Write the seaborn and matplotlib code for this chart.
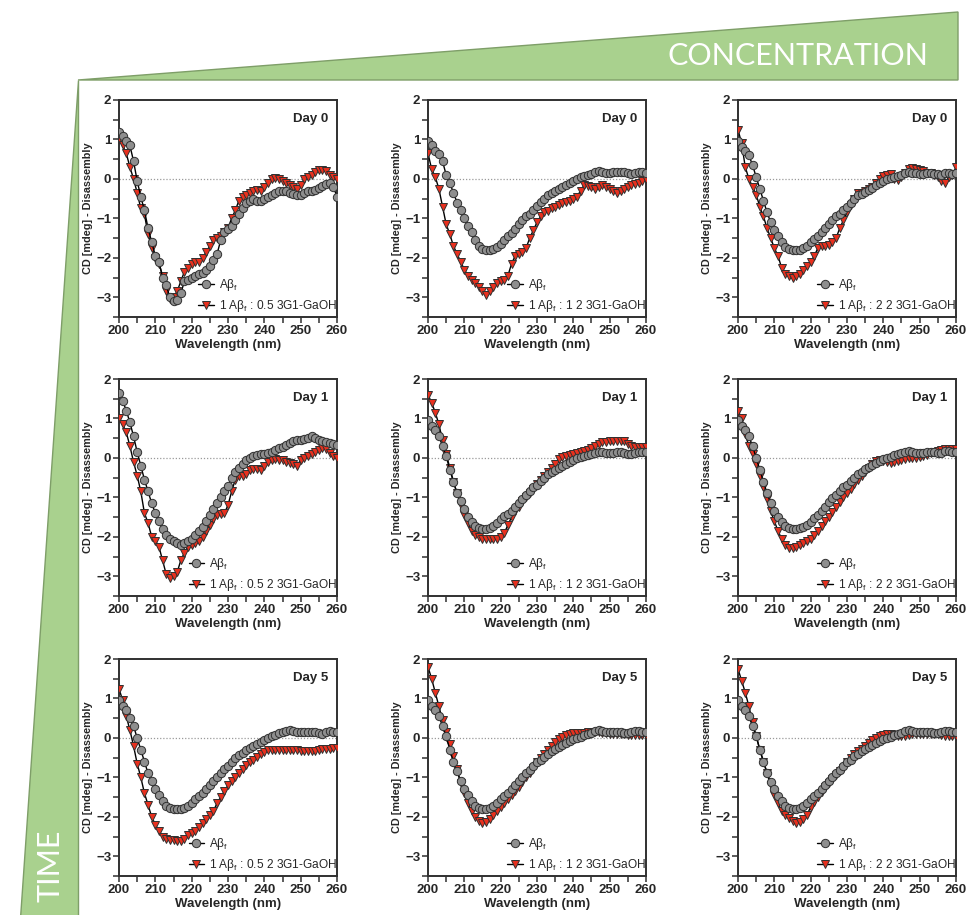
import numpy as np
import pandas as pd
import matplotlib
matplotlib.use("Agg")
import matplotlib.pyplot as plt
from matplotlib.patches import Polygon
from matplotlib.ticker import MultipleLocator
from matplotlib.lines import Line2D
import seaborn as sns

sns.set_style("ticks")
plt.rcParams["font.family"] = ["Liberation Sans", "DejaVu Sans"]

# Wavelength grid (nm), 1 nm steps
wavelength = list(range(200, 261))

# ---- Day 0 ----
ab_d0_a = [1.2, 1.1, 0.95, 0.85, 0.45, -0.05, -0.45, -0.8, -1.25, -1.6, -1.95, -2.1, -2.5, -2.7, -3.0, -3.1,
           -3.08, -2.9, -2.6, -2.55, -2.5, -2.47, -2.42, -2.38, -2.3, -2.2, -2.05, -1.9, -1.55, -1.35, -1.28,
           -1.2, -1.05, -0.9, -0.75, -0.6, -0.55, -0.52, -0.55, -0.55, -0.5, -0.45, -0.4, -0.35, -0.3, -0.3,
           -0.3, -0.35, -0.38, -0.42, -0.4, -0.35, -0.3, -0.3, -0.28, -0.22, -0.18, -0.12, -0.1, -0.2, -0.45]
mix_d0_a = [1.0, 0.85, 0.65, 0.3, 0.0, -0.35, -0.75, -0.9, -1.4, -1.75, -2.0, -2.15, -2.45, -2.85, -3.05, -3.0,
            -2.85, -2.6, -2.35, -2.25, -2.15, -2.1, -2.1, -2.0, -1.85, -1.7, -1.55, -1.5, -1.45, -1.35, -1.25,
            -1.0, -0.8, -0.55, -0.45, -0.4, -0.35, -0.3, -0.28, -0.3, -0.2, -0.1, 0.0, 0.02, 0.0, -0.05, -0.1,
            -0.15, -0.2, -0.25, -0.15, 0.0, 0.05, 0.1, 0.18, 0.22, 0.22, 0.2, 0.1, 0.05, 0.0]
ab_d0_b = [0.95, 0.85, 0.72, 0.62, 0.45, 0.1, -0.1, -0.35, -0.6, -0.8, -1.0, -1.2, -1.35, -1.55, -1.7, -1.78,
           -1.8, -1.8, -1.78, -1.72, -1.65, -1.55, -1.45, -1.38, -1.28, -1.15, -1.05, -0.95, -0.88, -0.78, -0.68,
           -0.58, -0.5, -0.42, -0.35, -0.3, -0.25, -0.2, -0.15, -0.1, -0.05, 0.0, 0.05, 0.08, 0.1, 0.13, 0.18,
           0.2, 0.18, 0.15, 0.15, 0.18, 0.18, 0.18, 0.17, 0.15, 0.12, 0.15, 0.18, 0.17, 0.15]
mix_d0_b = [0.65, 0.25, 0.05, -0.25, -0.7, -1.15, -1.4, -1.7, -1.9, -2.1, -2.3, -2.45, -2.55, -2.65, -2.75,
            -2.85, -2.95, -2.85, -2.75, -2.65, -2.6, -2.55, -2.45, -2.15, -1.95, -1.9, -1.85, -1.75, -1.5, -1.3,
            -1.1, -0.95, -0.85, -0.82, -0.75, -0.72, -0.65, -0.62, -0.58, -0.55, -0.5, -0.45, -0.3, -0.15,
            -0.18, -0.2, -0.25, -0.2, -0.15, -0.2, -0.25, -0.3, -0.35, -0.3, -0.25, -0.2, -0.15, -0.12, -0.1,
            -0.05, 0.0]
ab_d0_c = [0.95, 0.82, 0.7, 0.6, 0.35, 0.05, -0.25, -0.55, -0.85, -1.1, -1.3, -1.45, -1.6, -1.72, -1.78, -1.8,
           -1.8, -1.8, -1.75, -1.7, -1.6, -1.52, -1.45, -1.35, -1.25, -1.15, -1.05, -0.95, -0.88, -0.8, -0.7,
           -0.6, -0.5, -0.42, -0.38, -0.32, -0.27, -0.22, -0.15, -0.1, -0.05, 0.0, 0.03, 0.05, 0.08, 0.1, 0.15,
           0.18, 0.15, 0.15, 0.12, 0.13, 0.15, 0.15, 0.13, 0.12, 0.1, 0.15, 0.15, 0.13, 0.15]
mix_d0_c = [1.25, 0.9, 0.3, 0.0, -0.2, -0.4, -0.7, -0.95, -1.25, -1.5, -1.75, -1.95, -2.25, -2.4, -2.45, -2.5,
            -2.45, -2.4, -2.3, -2.2, -2.1, -1.95, -1.75, -1.7, -1.7, -1.68, -1.6, -1.5, -1.25, -1.05, -0.85,
            -0.65, -0.5, -0.35, -0.35, -0.3, -0.25, -0.2, -0.1, 0.0, 0.08, 0.1, 0.12, 0.0, -0.02, 0.05, 0.15,
            0.25, 0.28, 0.25, 0.22, 0.2, 0.15, 0.15, 0.1, 0.05, -0.05, -0.1, 0.05, 0.1, 0.3]

# ---- Day 1 ----
ab_d1_a = [1.65, 1.45, 1.2, 0.9, 0.55, 0.15, -0.2, -0.55, -0.85, -1.15, -1.4, -1.6, -1.8, -1.95, -2.05, -2.1,
           -2.15, -2.2, -2.15, -2.1, -2.05, -1.95, -1.85, -1.75, -1.6, -1.45, -1.3, -1.15, -1.0, -0.85, -0.7,
           -0.5, -0.35, -0.25, -0.15, -0.05, 0.0, 0.05, 0.08, 0.1, 0.1, 0.12, 0.15, 0.2, 0.25, 0.28, 0.32, 0.38,
           0.42, 0.45, 0.45, 0.48, 0.5, 0.55, 0.5, 0.45, 0.42, 0.4, 0.38, 0.35, 0.32]
mix_d1_a = [1.0, 0.85, 0.65, 0.3, -0.1, -0.45, -0.85, -1.4, -1.65, -2.0, -2.1, -2.25, -2.6, -2.95, -3.05, -3.0,
            -2.9, -2.6, -2.4, -2.25, -2.2, -2.15, -2.1, -2.0, -1.85, -1.7, -1.55, -1.45, -1.42, -1.4, -1.2,
            -0.85, -0.55, -0.45, -0.45, -0.4, -0.3, -0.28, -0.28, -0.3, -0.2, -0.1, -0.05, -0.02, -0.05, -0.05,
            -0.1, -0.12, -0.15, -0.2, -0.05, 0.0, 0.05, 0.1, 0.15, 0.2, 0.25, 0.22, 0.12, 0.05, 0.0]
ab_d1_b = [0.95, 0.82, 0.7, 0.55, 0.3, 0.05, -0.3, -0.6, -0.9, -1.1, -1.3, -1.5, -1.62, -1.72, -1.78, -1.8,
           -1.8, -1.78, -1.72, -1.65, -1.55, -1.48, -1.42, -1.35, -1.25, -1.15, -1.05, -0.95, -0.85, -0.75,
           -0.68, -0.58, -0.5, -0.42, -0.35, -0.3, -0.25, -0.2, -0.15, -0.1, -0.05, 0.0, 0.03, 0.05, 0.08, 0.1,
           0.13, 0.15, 0.15, 0.12, 0.12, 0.13, 0.15, 0.15, 0.13, 0.1, 0.1, 0.13, 0.15, 0.15, 0.15]
mix_d1_b = [1.6, 1.4, 1.15, 0.85, 0.45, 0.1, -0.25, -0.6, -0.9, -1.2, -1.45, -1.65, -1.85, -1.95, -2.0, -2.05,
            -2.05, -2.05, -2.05, -2.05, -2.0, -1.9, -1.7, -1.5, -1.35, -1.25, -1.1, -1.0, -0.9, -0.78, -0.65,
            -0.55, -0.45, -0.35, -0.25, -0.15, -0.02, 0.02, 0.05, 0.08, 0.1, 0.12, 0.15, 0.18, 0.2, 0.25, 0.3,
            0.35, 0.4, 0.4, 0.42, 0.42, 0.42, 0.42, 0.42, 0.35, 0.3, 0.28, 0.28, 0.28, 0.28]
ab_d1_c = [0.95, 0.82, 0.72, 0.55, 0.3, 0.0, -0.3, -0.6, -0.9, -1.15, -1.35, -1.5, -1.62, -1.72, -1.78, -1.8,
           -1.8, -1.78, -1.75, -1.7, -1.62, -1.52, -1.45, -1.35, -1.25, -1.12, -1.02, -0.95, -0.85, -0.75,
           -0.68, -0.58, -0.5, -0.42, -0.35, -0.28, -0.22, -0.18, -0.12, -0.08, -0.03, 0.0, 0.03, 0.07, 0.1,
           0.13, 0.15, 0.18, 0.15, 0.13, 0.12, 0.13, 0.15, 0.15, 0.15, 0.13, 0.13, 0.18, 0.18, 0.15, 0.15]
mix_d1_c = [1.2, 1.0, 0.6, 0.3, 0.1, -0.15, -0.45, -0.75, -1.05, -1.35, -1.6, -1.85, -2.05, -2.2, -2.28, -2.28,
            -2.25, -2.2, -2.15, -2.1, -2.05, -1.95, -1.85, -1.72, -1.6, -1.5, -1.38, -1.25, -1.12, -1.0, -0.9,
            -0.78, -0.65, -0.55, -0.45, -0.35, -0.25, -0.15, -0.08, -0.05, -0.08, -0.1, -0.12, -0.1, -0.08,
            -0.05, -0.02, 0.0, 0.0, 0.0, 0.02, 0.05, 0.08, 0.12, 0.15, 0.18, 0.2, 0.22, 0.22, 0.22, 0.22]

# ---- Day 5 ----
ab_d5_a = [0.95, 0.82, 0.7, 0.5, 0.3, 0.0, -0.3, -0.6, -0.9, -1.1, -1.3, -1.45, -1.6, -1.72, -1.78, -1.8,
           -1.8, -1.8, -1.78, -1.72, -1.65, -1.55, -1.48, -1.4, -1.3, -1.2, -1.1, -1.0, -0.9, -0.8, -0.7, -0.6,
           -0.5, -0.43, -0.37, -0.3, -0.25, -0.2, -0.15, -0.1, -0.05, 0.0, 0.05, 0.08, 0.12, 0.15, 0.18, 0.2,
           0.18, 0.15, 0.15, 0.15, 0.15, 0.15, 0.15, 0.12, 0.1, 0.15, 0.18, 0.15, 0.15]
mix_d5_a = [1.25, 0.95, 0.55, 0.2, -0.2, -0.65, -1.0, -1.4, -1.7, -2.0, -2.2, -2.35, -2.5, -2.55, -2.6, -2.6,
            -2.62, -2.62, -2.55, -2.45, -2.4, -2.35, -2.25, -2.15, -2.05, -1.95, -1.85, -1.65, -1.5, -1.35,
            -1.2, -1.1, -1.0, -0.88, -0.78, -0.68, -0.6, -0.55, -0.48, -0.42, -0.35, -0.3, -0.3, -0.3, -0.3,
            -0.3, -0.3, -0.3, -0.3, -0.3, -0.32, -0.32, -0.32, -0.32, -0.32, -0.3, -0.28, -0.28, -0.27, -0.25,
            -0.25]
ab_d5_b = [0.95, 0.82, 0.7, 0.55, 0.3, 0.05, -0.3, -0.6, -0.85, -1.1, -1.3, -1.45, -1.6, -1.72, -1.78, -1.8,
           -1.8, -1.78, -1.72, -1.65, -1.55, -1.48, -1.4, -1.3, -1.2, -1.1, -1.0, -0.9, -0.82, -0.72, -0.62,
           -0.55, -0.48, -0.4, -0.33, -0.27, -0.22, -0.17, -0.12, -0.08, -0.03, 0.0, 0.03, 0.07, 0.1, 0.13,
           0.18, 0.2, 0.18, 0.15, 0.15, 0.15, 0.15, 0.15, 0.13, 0.12, 0.15, 0.18, 0.17, 0.15, 0.15]
mix_d5_b = [1.8, 1.5, 1.15, 0.8, 0.45, 0.15, -0.15, -0.45, -0.8, -1.15, -1.4, -1.65, -1.85, -2.0, -2.1, -2.15,
            -2.12, -2.05, -1.95, -1.85, -1.75, -1.65, -1.55, -1.45, -1.35, -1.25, -1.12, -1.0, -0.88, -0.75,
            -0.62, -0.5, -0.4, -0.3, -0.2, -0.1, -0.02, 0.03, 0.07, 0.1, 0.12, 0.12, 0.12, 0.13, 0.15, 0.15,
            0.15, 0.15, 0.13, 0.12, 0.1, 0.1, 0.1, 0.1, 0.1, 0.08, 0.07, 0.07, 0.07, 0.07, 0.08]
ab_d5_c = [0.95, 0.82, 0.7, 0.55, 0.3, 0.05, -0.3, -0.6, -0.88, -1.12, -1.3, -1.47, -1.6, -1.72, -1.78, -1.8,
           -1.8, -1.78, -1.72, -1.65, -1.55, -1.47, -1.4, -1.3, -1.2, -1.1, -1.0, -0.9, -0.82, -0.72, -0.62,
           -0.55, -0.47, -0.4, -0.33, -0.27, -0.22, -0.17, -0.12, -0.07, -0.03, 0.0, 0.03, 0.07, 0.1, 0.13,
           0.17, 0.2, 0.17, 0.15, 0.15, 0.15, 0.15, 0.15, 0.13, 0.12, 0.15, 0.18, 0.17, 0.15, 0.15]
mix_d5_c = [1.75, 1.45, 1.15, 0.8, 0.4, 0.05, -0.3, -0.6, -0.9, -1.2, -1.45, -1.65, -1.85, -1.95, -2.02, -2.1,
            -2.15, -2.12, -2.05, -1.95, -1.75, -1.62, -1.5, -1.38, -1.25, -1.15, -1.05, -0.95, -0.85, -0.75,
            -0.62, -0.52, -0.42, -0.33, -0.27, -0.2, -0.12, -0.05, 0.0, 0.05, 0.08, 0.1, 0.1, 0.08, 0.05, 0.05,
            0.05, 0.08, 0.1, 0.1, 0.1, 0.1, 0.1, 0.1, 0.1, 0.1, 0.07, 0.05, 0.05, 0.05, 0.05]

day_labels = ["Day 0", "Day 1", "Day 5"]
ref_label = "Aβ$_\\mathregular{f}$"
mix_labels = [
    ["1 Aβ$_\\mathregular{f}$ : 0.5 3G1-GaOH", "1 Aβ$_\\mathregular{f}$ : 1 2 3G1-GaOH",
     "1 Aβ$_\\mathregular{f}$ : 2 2 3G1-GaOH"],
    ["1 Aβ$_\\mathregular{f}$ : 0.5 2 3G1-GaOH", "1 Aβ$_\\mathregular{f}$ : 1 2 3G1-GaOH",
     "1 Aβ$_\\mathregular{f}$ : 2 2 3G1-GaOH"],
    ["1 Aβ$_\\mathregular{f}$ : 0.5 2 3G1-GaOH", "1 Aβ$_\\mathregular{f}$ : 1 2 3G1-GaOH",
     "1 Aβ$_\\mathregular{f}$ : 2 2 3G1-GaOH"],
]
ref_series = [[ab_d0_a, ab_d0_b, ab_d0_c], [ab_d1_a, ab_d1_b, ab_d1_c], [ab_d5_a, ab_d5_b, ab_d5_c]]
mix_series = [[mix_d0_a, mix_d0_b, mix_d0_c], [mix_d1_a, mix_d1_b, mix_d1_c], [mix_d5_a, mix_d5_b, mix_d5_c]]

W, H = 968, 915
fig = plt.figure(figsize=(W / 100, H / 100), dpi=100)
fig.patch.set_facecolor("white")

GREEN = "#A9D18E"
EDGE = "#7E9E68"


def px(x, y):
    return (x / W, 1 - y / H)


# Widening wedges: concentration along the columns, time down the rows
top_wedge = Polygon([px(78, 80), px(958, 12), px(958, 80)], closed=True, transform=fig.transFigure,
                    facecolor=GREEN, edgecolor=EDGE, linewidth=1.0, zorder=0)
left_wedge = Polygon([px(78, 80), px(78, 918), px(20, 918)], closed=True, transform=fig.transFigure,
                     facecolor=GREEN, edgecolor=EDGE, linewidth=1.0, zorder=0)
fig.patches.extend([top_wedge, left_wedge])
fig.text(928 / W, 1 - 56 / H, "CONCENTRATION", color="white", fontsize=22, family=["Lato", "DejaVu Sans"],
         fontweight="normal", ha="right", va="center")
fig.text(50 / W, 1 - 866 / H, "TIME", color="white", fontsize=22, family=["Lato", "DejaVu Sans"],
         fontweight="normal", rotation=90, ha="center", va="center")

col_left = [119, 428, 738]
row_top = [100, 379, 659]
aw, ah = 218, 217

GRAY_FILL = "#8E8E8E"
RED_FILL = "#E8301E"
DARK = "#303030"

for r in range(3):
    for c in range(3):
        ax = fig.add_axes([col_left[c] / W, 1 - (row_top[r] + ah) / H, aw / W, ah / H])
        df_ref = pd.DataFrame({"wavelength": wavelength, "cd": ref_series[r][c]})
        df_mix = pd.DataFrame({"wavelength": wavelength, "cd": mix_series[r][c]})
        ax.axhline(0, color="#9A9A9A", linestyle=(0, (1, 1.5)), linewidth=0.9, zorder=1)
        sns.lineplot(data=df_mix, x="wavelength", y="cd", ax=ax, color="black", linewidth=1.0,
                     marker="v", markersize=6.3, markerfacecolor=RED_FILL, markeredgecolor=DARK,
                     markeredgewidth=0.7, zorder=3)
        sns.lineplot(data=df_ref, x="wavelength", y="cd", ax=ax, color="black", linewidth=1.0,
                     marker="o", markersize=6.0, markerfacecolor=GRAY_FILL, markeredgecolor=DARK,
                     markeredgewidth=0.7, zorder=4)
        ax.set_xlim(200, 260)
        ax.set_ylim(-3.5, 2)
        ax.xaxis.set_major_locator(MultipleLocator(10))
        ax.xaxis.set_minor_locator(MultipleLocator(5))
        ax.yaxis.set_major_locator(MultipleLocator(1))
        ax.yaxis.set_minor_locator(MultipleLocator(0.5))
        ax.tick_params(which="both", direction="out", color=DARK, width=1.1)
        ax.tick_params(which="major", length=4, labelsize=9.5, pad=1.5)
        ax.tick_params(which="minor", length=4)
        for lab in ax.get_xticklabels() + ax.get_yticklabels():
            lab.set_fontweight("bold")
        for sp in ax.spines.values():
            sp.set_visible(True)
            sp.set_color(DARK)
            sp.set_linewidth(1.4)
        ax.set_xlabel("Wavelength (nm)", fontsize=9.5, fontweight="bold", labelpad=2)
        ax.set_ylabel("CD [mdeg] - Disassembly", fontsize=7.8, fontweight="bold", labelpad=2)
        ax.text(0.96, 0.94, day_labels[r], transform=ax.transAxes, ha="right", va="top",
                fontsize=9.5, fontweight="bold")
        handles = [
            Line2D([], [], color="black", linewidth=1.0, marker="o", markersize=6.0,
                   markerfacecolor=GRAY_FILL, markeredgecolor=DARK, markeredgewidth=0.7),
            Line2D([], [], color="black", linewidth=1.0, marker="v", markersize=6.3,
                   markerfacecolor=RED_FILL, markeredgecolor=DARK, markeredgewidth=0.7),
        ]
        ax.legend(handles, [ref_label, mix_labels[r][c]], loc="lower right", bbox_to_anchor=(1.0, 0.015),
                  frameon=False, fontsize=8.6, handlelength=1.3, handletextpad=0.4, labelspacing=0.4,
                  borderpad=0, borderaxespad=0)

fig.savefig("out.png", dpi=100)
